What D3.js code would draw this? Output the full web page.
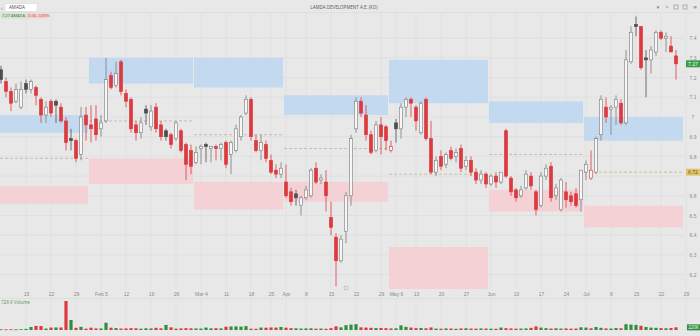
<!DOCTYPE html>
<html>
<head>
<meta charset="utf-8">
<script src="https://cdn.jsdelivr.net/npm/d3@7"></script>
<style>
  body { margin: 0; background: #e8e8e8; }
  svg { display: block; font-family: "Open Sans", "DejaVu Sans", sans-serif; }
</style>
</head>
<body>
<div id="chartArea"></div>
<script>
// trading calendar: weekdays from Jan 8 2024, minus these closed days
let holidays = ['2024-03-18', '2024-03-25', '2024-03-29', '2024-04-05', '2024-05-01', '2024-05-03', '2024-05-06', '2024-06-24']

let opens = [7.24, 7.18, 7.13, 7.08, 7.05, 7.17, 7.14, 7.15, 7.09, 7.01,
  7.08, 7.08, 7.05, 6.98, 6.89, 6.88, 6.81, 7.01, 6.96, 6.99,
  6.94, 6.98, 7.21, 7.16, 7.28, 7.12, 7.09, 6.96, 6.92, 7.04,
  6.95, 7.05, 6.96, 6.93, 6.91, 6.89, 6.93, 6.86, 6.83, 6.77,
  6.84, 6.86, 6.84, 6.85, 6.84, 6.87, 6.81, 6.83, 6.90, 7.02,
  7.09, 6.88, 6.83, 6.86, 6.78, 6.73, 6.71, 6.67, 6.62, 6.61,
  6.55, 6.59, 6.60, 6.74, 6.68, 6.67, 6.49, 6.39, 6.27, 6.42,
  6.60, 6.94, 7.08, 7.01, 6.91, 6.83, 6.96, 6.95, 6.83, 6.97,
  6.94, 7.05, 7.09, 7.05, 6.92, 7.09, 6.89, 6.72, 6.80, 6.76,
  6.83, 6.80, 6.84, 6.75, 6.78, 6.72, 6.68, 6.71, 6.66, 6.70,
  6.67, 6.93, 6.69, 6.63, 6.60, 6.64, 6.70, 6.62, 6.55, 6.70,
  6.75, 6.60, 6.53, 6.62, 6.60, 6.61, 6.58, 6.72, 6.69, 6.72,
  6.91, 7.05, 7.04, 7.05, 7.07, 6.97, 7.28, 7.47, 7.46, 7.30,
  7.29, 7.33, 7.43, 7.40, 7.36, 7.31]
let highs = [7.26, 7.20, 7.15, 7.17, 7.18, 7.19, 7.19, 7.16, 7.10, 7.08,
  7.09, 7.09, 7.07, 7.00, 6.94, 6.89, 7.05, 7.05, 7.06, 7.06,
  7.01, 7.30, 7.23, 7.28, 7.29, 7.14, 7.10, 6.98, 7.00, 7.06,
  7.06, 7.07, 6.98, 6.94, 6.92, 6.98, 6.94, 6.87, 6.86, 6.85,
  6.86, 6.87, 6.85, 6.86, 6.87, 6.88, 6.88, 6.96, 7.01, 7.11,
  7.10, 6.91, 6.91, 6.88, 6.81, 6.76, 6.77, 6.76, 6.64, 6.63,
  6.60, 6.65, 6.74, 6.77, 6.71, 6.73, 6.57, 6.41, 6.40, 6.62,
  6.91, 7.10, 7.10, 7.06, 6.93, 6.98, 7.00, 6.96, 6.88, 6.99,
  7.07, 7.10, 7.10, 7.06, 7.08, 7.10, 6.98, 6.80, 6.83, 6.82,
  6.85, 6.84, 6.86, 6.80, 6.80, 6.74, 6.73, 6.72, 6.71, 6.72,
  6.72, 6.94, 6.70, 6.64, 6.65, 6.73, 6.72, 6.63, 6.72, 6.76,
  6.77, 6.66, 6.69, 6.67, 6.62, 6.64, 6.73, 6.78, 6.83, 6.90,
  7.11, 7.10, 7.06, 7.11, 7.09, 7.34, 7.46, 7.51, 7.46, 7.34,
  7.36, 7.44, 7.44, 7.43, 7.41, 7.34]
let lows = [7.17, 7.10, 7.03, 7.07, 7.04, 7.12, 7.12, 7.06, 6.97, 6.97,
  7.00, 6.97, 6.97, 6.83, 6.83, 6.77, 6.78, 6.88, 6.87, 6.88,
  6.90, 6.97, 7.14, 7.15, 7.11, 7.05, 6.92, 6.88, 6.89, 6.96,
  6.93, 6.92, 6.88, 6.88, 6.84, 6.88, 6.82, 6.68, 6.71, 6.76,
  6.76, 6.77, 6.77, 6.78, 6.78, 6.74, 6.71, 6.82, 6.88, 7.01,
  6.88, 6.82, 6.78, 6.77, 6.71, 6.69, 6.69, 6.59, 6.55, 6.55,
  6.50, 6.58, 6.59, 6.66, 6.66, 6.52, 6.40, 6.14, 6.26, 6.36,
  6.55, 6.92, 7.00, 6.88, 6.81, 6.82, 6.81, 6.83, 6.82, 6.87,
  6.89, 7.00, 7.00, 6.93, 6.91, 6.88, 6.71, 6.70, 6.73, 6.74,
  6.78, 6.77, 6.72, 6.73, 6.70, 6.66, 6.66, 6.64, 6.65, 6.64,
  6.66, 6.69, 6.60, 6.57, 6.59, 6.63, 6.63, 6.50, 6.54, 6.68,
  6.57, 6.58, 6.52, 6.54, 6.55, 6.54, 6.52, 6.68, 6.68, 6.71,
  6.88, 6.97, 6.91, 6.96, 6.96, 6.96, 7.27, 7.41, 7.24, 7.10,
  7.22, 7.31, 7.39, 7.33, 7.33, 7.19]
let closes = [7.19, 7.13, 7.07, 7.14, 7.14, 7.14, 7.18, 7.11, 7.01, 7.05,
  7.02, 7.06, 6.98, 6.87, 6.88, 6.79, 7.00, 6.96, 6.94, 6.91,
  6.97, 7.19, 7.15, 7.22, 7.13, 7.08, 6.94, 6.92, 6.97, 7.02,
  7.03, 6.94, 6.90, 6.90, 6.86, 6.97, 6.83, 6.76, 6.75, 6.82,
  6.85, 6.85, 6.85, 6.84, 6.86, 6.76, 6.87, 6.94, 7.00, 7.09,
  6.90, 6.83, 6.87, 6.79, 6.72, 6.71, 6.74, 6.60, 6.57, 6.59,
  6.59, 6.63, 6.73, 6.67, 6.69, 6.60, 6.44, 6.27, 6.38, 6.60,
  6.89, 7.08, 7.02, 6.91, 6.82, 6.96, 6.90, 6.88, 6.85, 6.94,
  7.05, 7.09, 7.07, 6.98, 7.07, 6.89, 6.72, 6.78, 6.75, 6.81,
  6.79, 6.82, 6.74, 6.78, 6.72, 6.68, 6.71, 6.66, 6.70, 6.67,
  6.72, 6.70, 6.62, 6.59, 6.63, 6.71, 6.65, 6.53, 6.70, 6.74,
  6.59, 6.64, 6.68, 6.58, 6.57, 6.55, 6.73, 6.76, 6.73, 6.89,
  7.09, 7.00, 7.05, 7.09, 6.97, 7.29, 7.43, 7.46, 7.25, 7.29,
  7.34, 7.43, 7.40, 7.41, 7.33, 7.27]
let firstPrevClose = 7.18
// volume in thousands of shares
let volumes = [60, 50, 60, 50, 70, 90, 250, 340, 330, 120,
  200, 210, 210, 2400, 830, 180, 260, 110, 190, 130,
  130, 600, 190, 160, 120, 130, 150, 140, 110, 140,
  130, 180, 140, 420, 220, 110, 130, 150, 140, 130,
  120, 200, 140, 150, 130, 270, 290, 300, 280, 320,
  110, 100, 200, 190, 210, 200, 250, 190, 150, 140,
  120, 130, 140, 110, 120, 100, 150, 300, 220, 400,
  450, 480, 220, 200, 180, 160, 170, 150, 130, 140,
  380, 260, 200, 150, 170, 140, 210, 120, 110, 130,
  120, 100, 130, 140, 120, 110, 130, 120, 110, 100,
  200, 150, 130, 110, 120, 130, 180, 300, 200, 150,
  120, 140, 120, 130, 110, 120, 220, 200, 140, 250,
  180, 130, 120, 160, 140, 480, 450, 420, 350, 250,
  200, 180, 160, 140, 170, 220]

// monthly zones
let months = ['2024-01', '2024-02', '2024-03', '2024-04', '2024-05', '2024-06', '2024-07']
let resistTop = [7.01, 7.30, 7.30, 7.11, 7.29, 7.08, 7.00]
let resistBottom = [6.92, 7.17, 7.15, 7.01, 7.07, 6.97, 6.88]
let supportTop = [6.65, 6.79, 6.67, 6.67, 6.34, 6.63, 6.55]
let supportBottom = [6.56, 6.66, 6.53, 6.57, 6.12, 6.52, 6.44]
let pivots = [6.79, 6.98, 6.91, 6.84, 6.71, 6.81, 6.72]

let priceTicks = [6.2, 6.3, 6.4, 6.5, 6.6, 6.7, 6.8, 6.9, 7.0, 7.1, 7.2, 7.3, 7.4]
let tickDates = ['2024-01-15', '2024-01-22', '2024-01-29', '2024-02-05', '2024-02-12', '2024-02-19', '2024-02-26',
  '2024-03-04', '2024-03-11', '2024-03-18', '2024-03-25', '2024-04-01', '2024-04-08', '2024-04-15', '2024-04-22',
  '2024-04-29', '2024-05-06', '2024-05-13', '2024-05-20', '2024-05-27', '2024-06-03', '2024-06-10', '2024-06-17',
  '2024-06-24', '2024-07-01', '2024-07-08', '2024-07-15', '2024-07-22', '2024-07-29']
let tickLabels = ['15', '22', '29', 'Feb 5', '12', '19', '26', 'Mar 4', '11', '18', '25', 'Apr', '8', '15', '22',
  '29', 'May 6', '13', '20', '27', 'Jun', '10', '17', '24', 'Jul', '8', '15', '22', '29']
let symbol = 'AMADA'
let title = 'LAMDA DEVELOPMENT A.E. (KO)'
let changeText = '-0.06 -0.89%'
let volumeTitle = '728 K Volume'

let parse = d3.timeParse('%Y-%m-%d')
let fmt = d3.timeFormat('%Y-%m-%d')
let fmtMonth = d3.timeFormat('%Y-%m')
let closed = new Set(holidays)
let days = d3.timeDay.range(parse('2024-01-08'), parse('2024-08-01'))
  .filter(d => d.getDay() > 0 && d.getDay() < 6 && !closed.has(fmt(d)))

let dataset = closes.map((c, i) => ({
  i: i, date: days[i], open: opens[i], high: highs[i], low: lows[i], close: c,
  volume: volumes[i], prev: i ? closes[i - 1] : firstPrevClose
}))

let red = '#dc3a3f', green = '#2f8f3f', dark = '#4d4d4d', hollowLine = '#7b7b7b'
let upDay = d => d.close >= d.prev

let plotRight = 684, plotTop = 13, plotBottom = 289
let xScale = d3.scaleLinear().domain([0, 137]).range([1, 686])
let yScale = d3.scaleLinear().domain([6.2, 7.4]).range([274.6, 38.2])
let volScale = d3.scaleLinear().domain([0, d3.max(volumes)]).range([330, 301])

let tickIdx = tickDates.map(t => days.findIndex(d => d >= parse(t)))
let lastDay = dataset[dataset.length - 1]
let lastPivot = pivots[pivots.length - 1]

let svg = d3.select('#chartArea')
  .append('svg')
  .attr('width', 700)
  .attr('height', 336)
  .style('background', '#e8e8e8')

svg.append('clipPath').attr('id', 'plotClip')
  .append('rect').attr('x', 0).attr('y', plotTop).attr('width', plotRight).attr('height', plotBottom - plotTop)

// grid
let grid = svg.append('g').attr('stroke', '#dadada').attr('stroke-width', 0.6)
grid.selectAll('.hg').data(priceTicks).enter().append('line')
  .attr('x1', 0).attr('x2', plotRight)
  .attr('y1', d => yScale(d)).attr('y2', d => yScale(d))
grid.selectAll('.vg').data(tickIdx).enter().append('line')
  .attr('x1', d => xScale(d)).attr('x2', d => xScale(d))
  .attr('y1', plotTop).attr('y2', plotBottom)
grid.selectAll('.vv').data(tickIdx).enter().append('line')
  .attr('x1', d => xScale(d)).attr('x2', d => xScale(d))
  .attr('y1', 299).attr('y2', 331)

// monthly zones
let zones = months.map((m, j) => {
  let first = days.findIndex(d => fmtMonth(d) === m)
  let last = d3.max(days.map((d, k) => fmtMonth(d) === m ? k : -1))
  return {x0: Math.max(0, xScale(first) - 2), x1: Math.min(plotRight - 1, xScale(last) + 2), j: j}
})
let zg = svg.append('g').attr('clip-path', 'url(#plotClip)')
zg.selectAll('.res').data(zones).enter().append('rect')
  .attr('x', d => d.x0).attr('width', d => d.x1 - d.x0)
  .attr('y', d => yScale(resistTop[d.j])).attr('height', d => yScale(resistBottom[d.j]) - yScale(resistTop[d.j]))
  .attr('fill', '#c3d9ef')
zg.selectAll('.sup').data(zones).enter().append('rect')
  .attr('x', d => d.x0).attr('width', d => d.x1 - d.x0)
  .attr('y', d => yScale(supportTop[d.j])).attr('height', d => yScale(supportBottom[d.j]) - yScale(supportTop[d.j]))
  .attr('fill', '#f3d1d4')
zg.selectAll('.piv').data(zones).enter().append('line')
  .attr('x1', d => d.x0).attr('x2', d => d.x1)
  .attr('y1', d => yScale(pivots[d.j])).attr('y2', d => yScale(pivots[d.j]))
  .attr('stroke', d => d.j === months.length - 1 ? '#c7ad5e' : '#b7ab98')
  .attr('stroke-width', 0.7)
  .attr('stroke-dasharray', '3,2')

// candles
let cg = svg.append('g').attr('clip-path', 'url(#plotClip)')
let candleStroke = d => upDay(d) ? (d.close >= d.open ? hollowLine : dark) : red
let candleFill = d => d.close >= d.open ? '#f6f6f6' : (upDay(d) ? dark : red)

cg.selectAll('.wick').data(dataset).enter().append('line')
  .attr('x1', d => xScale(d.i)).attr('x2', d => xScale(d.i))
  .attr('y1', d => yScale(d.high)).attr('y2', d => yScale(d.low))
  .attr('stroke', candleStroke)
  .attr('stroke-width', 0.8)
cg.selectAll('.body').data(dataset).enter().append('rect')
  .attr('x', d => xScale(d.i) - 1.6)
  .attr('width', 3.2)
  .attr('y', d => yScale(Math.max(d.open, d.close)))
  .attr('height', d => Math.max(0.8, Math.abs(yScale(d.open) - yScale(d.close))))
  .attr('fill', candleFill)
  .attr('stroke', candleStroke)
  .attr('stroke-width', 0.6)

// price axis, labels under the flags are covered in the original
let flagPrices = [lastDay.close, lastPivot]
let shownTicks = priceTicks.filter(t => flagPrices.every(f => Math.abs(yScale(t) - yScale(f)) > 5))
let yAxis = svg.append('g')
  .attr('transform', `translate(${plotRight},0)`)
  .call(d3.axisRight(yScale).tickValues(shownTicks).tickFormat(d3.format('~g')).tickSize(0).tickPadding(9))
yAxis.select('.domain').remove()
yAxis.selectAll('text').attr('text-anchor', 'middle').attr('fill', '#8a8a8a').style('font-size', '5px')

// date axis
let xAxis = svg.append('g')
  .attr('transform', `translate(0,${plotBottom})`)
  .call(d3.axisBottom(xScale).tickValues(tickIdx).tickFormat((d, k) => tickLabels[k]).tickSize(0).tickPadding(3.5))
xAxis.select('.domain').remove()
xAxis.selectAll('text').attr('fill', '#8a8a8a').style('font-size', '5px')

// volume
svg.append('line').attr('x1', 0).attr('x2', 700).attr('y1', 298.5).attr('y2', 298.5)
  .attr('stroke', '#d6d6d6').attr('stroke-width', 0.6)
svg.append('g').selectAll('rect').data(dataset).enter().append('rect')
  .attr('x', d => xScale(d.i) - 1.6)
  .attr('width', 3.2)
  .attr('y', d => volScale(d.volume))
  .attr('height', d => Math.max(0.8, 330 - volScale(d.volume)))
  .attr('fill', d => upDay(d) ? green : red)
svg.append('text').attr('x', 1).attr('y', 304).attr('fill', '#5c8f5c').style('font-size', '4.5px')
  .text(volumeTitle)

svg.append('rect').attr('x', 687).attr('y', volScale(lastDay.volume) - 3).attr('width', 13).attr('height', 6).attr('fill', green)
svg.append('text').attr('x', 693.5).attr('y', volScale(lastDay.volume) + 1.6).attr('text-anchor', 'middle')
  .attr('fill', '#fff').style('font-size', '4.5px').text(lastDay.volume + 'K')

// price flags
svg.append('rect').attr('x', 686).attr('y', yScale(lastDay.close) - 3.5).attr('width', 14).attr('height', 7).attr('fill', '#3c9a4a')
svg.append('text').attr('x', 693).attr('y', yScale(lastDay.close) + 1.7).attr('text-anchor', 'middle')
  .attr('fill', '#fff').style('font-size', '5px').text(d3.format('.2f')(lastDay.close))
svg.append('rect').attr('x', 686).attr('y', yScale(lastPivot) - 3.5).attr('width', 14).attr('height', 7).attr('fill', '#e2c56e')
svg.append('text').attr('x', 693).attr('y', yScale(lastPivot) + 1.7).attr('text-anchor', 'middle')
  .attr('fill', '#5a4a1a').style('font-size', '5px').text(d3.format('.2f')(lastPivot))

// event marker
svg.append('circle').attr('cx', xScale(69)).attr('cy', 288).attr('r', 2)
  .attr('fill', '#e8e8e8').attr('stroke', '#9a9a9a').attr('stroke-width', 0.5)

// header
svg.append('line').attr('x1', 0).attr('x2', 700).attr('y1', 12.5).attr('y2', 12.5).attr('stroke', '#d8d8d8').attr('stroke-width', 0.6)
svg.append('text').attr('x', 1).attr('y', 10).attr('fill', '#666').style('font-size', '6px').text('‹')
svg.append('rect').attr('x', 5).attr('y', 3.5).attr('width', 32).attr('height', 8).attr('fill', '#fff').attr('stroke', '#d0d0d0').attr('stroke-width', 0.5)
svg.append('text').attr('x', 9).attr('y', 9).attr('fill', '#444').style('font-size', '4.5px').text(symbol)
svg.append('text').attr('x', 344).attr('y', 9).attr('text-anchor', 'middle').attr('fill', '#555').style('font-size', '4.5px')
  .text(title)

svg.append('rect').attr('x', 1).attr('y', 13.5).attr('width', 24).attr('height', 5).attr('fill', '#cfe2cc')
svg.append('text').attr('x', 2).attr('y', 17.4).attr('fill', '#3c7a3c').style('font-size', '4px')
  .text(d3.format('.2f')(lastDay.close) + ' ' + symbol)
svg.append('rect').attr('x', 26).attr('y', 13.5).attr('width', 22).attr('height', 5).attr('fill', '#f2d3d3')
svg.append('text').attr('x', 27).attr('y', 17.4).attr('fill', '#d04040').style('font-size', '4px')
  .text(changeText)

let icons = svg.append('g').attr('fill', '#777').style('font-size', '5px').attr('text-anchor', 'middle')
icons.append('text').attr('x', 658).attr('y', 9).text('▾')
icons.append('text').attr('x', 667).attr('y', 9).text('×')
svg.append('rect').attr('x', 674).attr('y', 5).attr('width', 4).attr('height', 4).attr('fill', 'none').attr('stroke', '#777').attr('stroke-width', 0.5)
svg.append('rect').attr('x', 683).attr('y', 5).attr('width', 4).attr('height', 4).attr('fill', 'none').attr('stroke', '#777').attr('stroke-width', 0.5)
icons.append('text').attr('x', 695).attr('y', 9).text('≡')
</script>
</body>
</html>
